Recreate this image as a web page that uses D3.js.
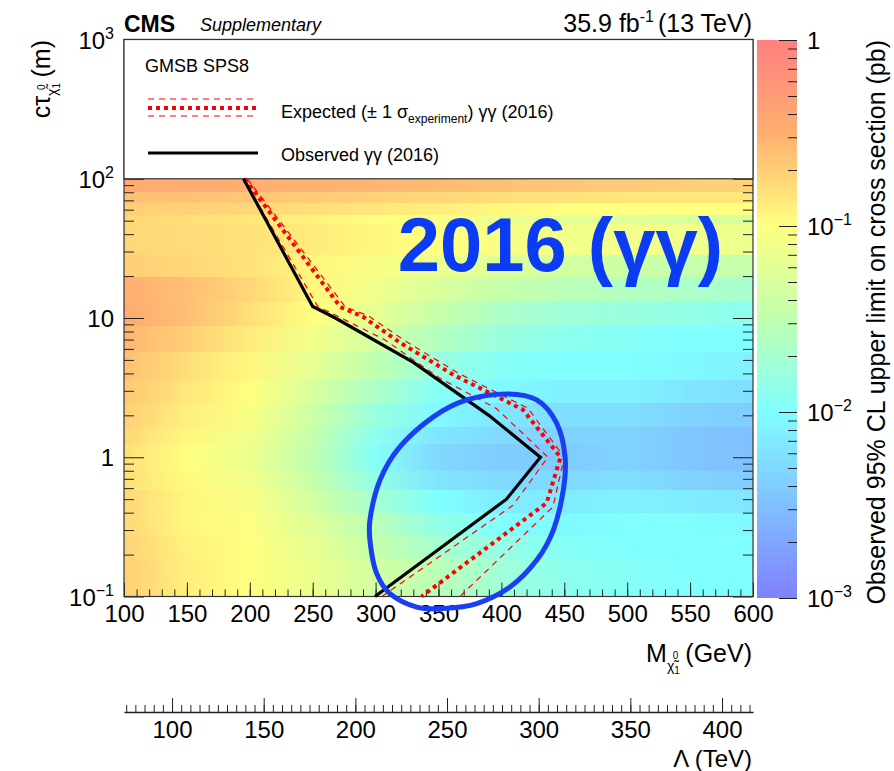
<!DOCTYPE html>
<html>
<head>
<meta charset="utf-8">
<title>GMSB SPS8 2016</title>
<style>
  body { margin: 0; background: #fff; }
  svg text { font-family: "Liberation Sans", Arial, sans-serif; fill: #000; }
</style>
</head>
<body>
<script src="https://cdn.jsdelivr.net/npm/d3@7"></script>
<script>
// ---- data ----
// neutralino mass nodes (GeV) for every row of the limit map
var massNodes = [100, 150, 200, 250, 300, 350, 400, 450, 500, 550, 600];
// row edges in c*tau (m), bottom to top
var ctauEdges = [0.1, 0.19, 0.27, 0.4, 0.58, 0.8, 1.25, 1.66, 2.47, 3.6, 5.7, 8.7, 13.1, 19.8, 28.4, 47, 55, 67, 80.7, 100];
// log10 of observed 95% CL limit (pb), one row per ctau band, one value per mass node
var limitRows = [
  [-0.70, -0.90, -1.00, -1.15, -1.35, -1.55, -1.75, -1.90, -1.95, -2.00, -2.00],
  [-0.72, -0.92, -1.00, -1.20, -1.45, -1.70, -1.85, -1.95, -2.00, -2.00, -2.00],
  [-0.75, -0.95, -1.02, -1.25, -1.55, -1.85, -2.00, -2.05, -2.00, -2.00, -2.05],
  [-0.75, -0.95, -1.05, -1.35, -1.70, -2.00, -2.15, -2.15, -2.10, -2.15, -2.20],
  [-0.80, -0.98, -1.10, -1.45, -1.85, -2.20, -2.30, -2.30, -2.25, -2.35, -2.40],
  [-0.80, -1.00, -1.15, -1.50, -1.95, -2.30, -2.40, -2.40, -2.35, -2.45, -2.50],
  [-0.75, -0.95, -1.10, -1.45, -1.90, -2.20, -2.30, -2.35, -2.35, -2.45, -2.50],
  [-0.70, -0.90, -1.05, -1.40, -1.80, -2.05, -2.20, -2.25, -2.25, -2.35, -2.40],
  [-0.65, -0.85, -1.00, -1.30, -1.65, -1.95, -2.05, -2.10, -2.10, -2.20, -2.25],
  [-0.60, -0.80, -0.95, -1.20, -1.50, -1.80, -1.95, -2.00, -2.00, -2.05, -2.10],
  [-0.55, -0.70, -0.88, -1.10, -1.35, -1.60, -1.80, -1.90, -1.95, -2.00, -2.00],
  [-0.45, -0.60, -0.80, -1.00, -1.20, -1.45, -1.65, -1.75, -1.80, -1.85, -1.90],
  [-0.50, -0.60, -0.75, -0.95, -1.10, -1.30, -1.45, -1.55, -1.60, -1.65, -1.70],
  [-0.70, -0.75, -0.82, -0.95, -1.05, -1.15, -1.25, -1.35, -1.40, -1.45, -1.45],
  [-0.75, -0.78, -0.82, -0.88, -0.95, -1.00, -1.05, -1.10, -1.10, -1.12, -1.15],
  [-0.75, -0.80, -0.85, -0.92, -1.00, -1.05, -1.15, -1.20, -1.25, -1.30, -1.32],
  [-0.70, -0.72, -0.75, -0.80, -0.85, -0.90, -0.95, -1.00, -1.00, -1.00, -1.00],
  [-0.60, -0.62, -0.65, -0.68, -0.72, -0.75, -0.80, -0.82, -0.85, -0.85, -0.85],
  [-0.45, -0.47, -0.50, -0.52, -0.55, -0.58, -0.62, -0.65, -0.68, -0.70, -0.72]
];

// exclusion contours: [mass (GeV), ctau (m)]
var observed = [[195, 100], [250, 12.1], [268, 10], [330, 4.8], [390, 2.0], [431, 1.0], [404, 0.5], [299.5, 0.1]];
var expected = [[196, 100], [272, 12], [290, 10.2], [320, 6.6], [362, 3.9], [417, 2.2], [447, 1.0], [436, 0.47], [336.5, 0.1]];
var expectedUp = [[195, 100], [254, 12.1], [268, 10.5], [307, 7.0], [351, 3.7], [396, 2.24], [437, 1.0], [409, 0.45], [305, 0.1]];
var expectedDown = [[198, 100], [276, 12], [294, 10.4], [324, 6.8], [366, 4.0], [421, 2.25], [450, 1.0], [441, 0.44], [367, 0.1]];

// hand-drawn highlight ellipse: [mass (GeV), ctau (m)]
var highlight = [[295.5, 0.354], [303.5, 0.686], [319.4, 1.19], [345.9, 1.95], [372.4, 2.58], [404.2, 2.85],
  [428.1, 2.58], [444, 1.75], [450.6, 1.01], [449.2, 0.58], [441.3, 0.30], [428, 0.182], [406.8, 0.117],
  [380.4, 0.089], [353.8, 0.082], [332.7, 0.084], [311.4, 0.105], [300.9, 0.146], [296.1, 0.228]];

var massTicks = [100, 150, 200, 250, 300, 350, 400, 450, 500, 550, 600];
var lambdaTicks = [100, 150, 200, 250, 300, 350, 400];
var ctauTicks = [0.1, 1, 10, 100, 1000];
var limitTicks = [0.001, 0.01, 0.1, 1];

// ---- canvas ----
var W = 894, H = 771;
var svg = d3.select("body").append("svg").attr("width", W).attr("height", H);

var x = d3.scaleLinear().domain([100, 600]).range([124, 753]);
var y = d3.scaleLog().domain([0.1, 1000]).range([596.5, 39.5]);
var lam = d3.scaleLinear().domain([73.8, 416.9]).range([124, 753]);
var z = d3.scaleLog().domain([0.001, 1]).range([598, 40]);

// pastel rainbow palette (blue -> cyan -> green -> yellow -> red)
var palette = d3.scaleLinear()
  .domain([0, 1 / 3, 0.5, 2 / 3, 0.83, 1])
  .range(["#8080ff", "#80ffff", "#c0ffb0", "#ffff80", "#ffb070", "#ff8080"])
  .clamp(true);
function colorOf(v) { return palette((Math.log10(v) + 3) / 3); }

var defs = svg.append("defs");

// one horizontal gradient per ctau band
limitRows.forEach(function(row, i) {
  var g = defs.append("linearGradient").attr("id", "row" + i)
    .attr("gradientUnits", "userSpaceOnUse")
    .attr("x1", x(massNodes[0])).attr("x2", x(massNodes[massNodes.length - 1]))
    .attr("y1", 0).attr("y2", 0);
  g.selectAll("stop").data(row).enter().append("stop")
    .attr("offset", function(d, j) { return (massNodes[j] - massNodes[0]) / (massNodes[massNodes.length - 1] - massNodes[0]); })
    .attr("stop-color", function(d) { return colorOf(Math.pow(10, d)); });
});

svg.append("g").selectAll("rect").data(limitRows).enter().append("rect")
  .attr("x", x(100)).attr("width", x(600) - x(100))
  .attr("y", function(d, i) { return y(ctauEdges[i + 1]); })
  .attr("height", function(d, i) { return y(ctauEdges[i]) - y(ctauEdges[i + 1]); })
  .attr("shape-rendering", "crispEdges")
  .attr("fill", function(d, i) { return "url(#row" + i + ")"; });

// ---- axes of the main frame ----
var isMajor = function(v) { return Math.abs(Math.log10(v) - Math.round(Math.log10(v))) < 1e-6; };
var yMinor = y.ticks().filter(function(v) { return !isMajor(v); });

function tidy(g) {
  g.select(".domain").remove();
  g.selectAll(".tick line").attr("stroke", "#222");
  g.selectAll("text").style("font-family", "'Liberation Sans', Arial, sans-serif");
}

svg.append("g").attr("transform", "translate(" + x(100) + ",0)")
  .call(d3.axisLeft(y).tickValues(yMinor).tickSize(-10).tickFormat("")).call(tidy);
svg.append("g").attr("transform", "translate(" + x(100) + ",0)")
  .call(d3.axisLeft(y).tickValues(ctauTicks).tickSize(-20).tickFormat("")).call(tidy);
svg.append("g").attr("transform", "translate(" + x(600) + ",0)")
  .call(d3.axisRight(y).tickValues(yMinor).tickSize(-10).tickFormat("")).call(tidy);
svg.append("g").attr("transform", "translate(" + x(600) + ",0)")
  .call(d3.axisRight(y).tickValues(ctauTicks).tickSize(-20).tickFormat("")).call(tidy);

svg.append("g").attr("transform", "translate(0," + y(0.1) + ")")
  .call(d3.axisBottom(x).tickValues(d3.range(100, 601, 10)).tickSize(-7).tickFormat("")).call(tidy);
var xa = svg.append("g").attr("transform", "translate(0," + y(0.1) + ")")
  .call(d3.axisBottom(x).tickValues(massTicks).tickSize(-14).tickPadding(8).tickFormat(d3.format("d")));
xa.call(tidy);
xa.selectAll("text").style("font-size", "24px").attr("fill", "#000");

// power-of-ten label helper
function powLabel(sel, v) {
  var e = Math.round(Math.log10(v));
  if (e === 0) { sel.text("1"); return; }
  if (e === 1) { sel.text("10"); return; }
  sel.append("tspan").text("10");
  sel.append("tspan").attr("dy", -10).style("font-size", "16px")
    .text(e < 0 ? "\u2212" + (-e) : String(e));
}

svg.append("g").selectAll("text").data(ctauTicks).enter().append("text")
  .attr("x", 114).attr("y", function(d) { return y(d) + 9; })
  .attr("text-anchor", "end").style("font-size", "24px")
  .each(function(d) { powLabel(d3.select(this), d); });

// frame
svg.append("rect").attr("x", x(100)).attr("y", y(1000)).attr("width", x(600) - x(100))
  .attr("height", y(0.1) - y(1000)).attr("fill", "none").attr("stroke", "#333").attr("stroke-width", 1.2);

// legend box covering the top decade
svg.append("rect").attr("x", x(100)).attr("y", y(1000)).attr("width", x(600) - x(100))
  .attr("height", y(100) - y(1000)).attr("fill", "#fff").attr("stroke", "#333").attr("stroke-width", 1.2);

// ---- contours ----
var line = d3.line().x(function(d) { return x(d[0]); }).y(function(d) { return y(d[1]); });

svg.append("path").datum(expectedUp).attr("d", line).attr("fill", "none")
  .attr("stroke", "#ff0000").attr("stroke-width", 1.2).attr("stroke-dasharray", "6,5");
svg.append("path").datum(expectedDown).attr("d", line).attr("fill", "none")
  .attr("stroke", "#ff0000").attr("stroke-width", 1.2).attr("stroke-dasharray", "6,5");
svg.append("path").datum(expected).attr("d", line).attr("fill", "none")
  .attr("stroke", "#ff0000").attr("stroke-width", 4).attr("stroke-dasharray", "4,4");
svg.append("path").datum(observed).attr("d", line).attr("fill", "none")
  .attr("stroke", "#000").attr("stroke-width", 3.2);

svg.append("path").datum(highlight)
  .attr("d", d3.line().curve(d3.curveCardinalClosed).x(function(d) { return x(d[0]); }).y(function(d) { return y(d[1]); }))
  .attr("fill", "none").attr("stroke", "#1a3ef2").attr("stroke-width", 5);

svg.append("text").attr("x", 723).attr("y", 271).attr("text-anchor", "end")
  .style("font-size", "76px").style("font-weight", "bold").style("fill", "#0b3cf4")
  .text("2016 (\u03b3\u03b3)");

// ---- legend ----
var lg = svg.append("g");
lg.append("text").attr("x", 145).attr("y", 72).style("font-size", "18px").text("GMSB SPS8");
[99, 116].forEach(function(yy) {
  lg.append("line").attr("x1", 148).attr("x2", 258).attr("y1", yy).attr("y2", yy)
    .attr("stroke", "#ff0000").attr("stroke-width", 1.2).attr("stroke-dasharray", "6,5");
});
lg.append("line").attr("x1", 148).attr("x2", 258).attr("y1", 108).attr("y2", 108)
  .attr("stroke", "#ff0000").attr("stroke-width", 4).attr("stroke-dasharray", "4,4");
var et = lg.append("text").attr("x", 281).attr("y", 118).style("font-size", "18px");
et.append("tspan").text("Expected (\u00b1 1 \u03c3");
et.append("tspan").attr("dy", 5).style("font-size", "12px").text("experiment");
et.append("tspan").attr("dy", -5).text(") \u03b3\u03b3 (2016)");
lg.append("line").attr("x1", 148).attr("x2", 258).attr("y1", 153).attr("y2", 153)
  .attr("stroke", "#000").attr("stroke-width", 3.2);
lg.append("text").attr("x", 281).attr("y", 161).style("font-size", "18px").text("Observed \u03b3\u03b3 (2016)");

// ---- header ----
svg.append("text").attr("x", 124).attr("y", 32).style("font-size", "23px").style("font-weight", "bold").text("CMS");
svg.append("text").attr("x", 200).attr("y", 31).style("font-size", "18px").style("font-style", "italic").text("Supplementary");
var lum = svg.append("text").attr("x", 752).attr("y", 32).attr("text-anchor", "end").style("font-size", "25px");
lum.append("tspan").text("35.9 fb");
lum.append("tspan").attr("dy", -10).style("font-size", "16px").text("-1");
lum.append("tspan").attr("dx", 4).attr("dy", 10).text("(13 TeV)");

// ---- axis titles ----
var yt = svg.append("text").attr("transform", "translate(50,40) rotate(-90)").attr("text-anchor", "end")
  .style("font-size", "25px");
yt.append("tspan").text("c\u03c4");
yt.append("tspan").attr("dy", 7).style("font-size", "14px").text("\u03c7\u0303");
yt.append("tspan").attr("dy", 3).style("font-size", "10px").text("1");
yt.append("tspan").attr("dx", -7).attr("dy", -15).style("font-size", "10px").text("0");
yt.append("tspan").attr("dy", 5).text(" (m)");

var xt = svg.append("text").attr("x", 752).attr("y", 662).attr("text-anchor", "end").style("font-size", "25px");
xt.append("tspan").text("M");
xt.append("tspan").attr("dy", 9).style("font-size", "14px").text("\u03c7\u0303");
xt.append("tspan").attr("dy", 3).style("font-size", "10px").text("1");
xt.append("tspan").attr("dx", -7).attr("dy", -15).style("font-size", "10px").text("0");
xt.append("tspan").attr("dy", 3).text(" (GeV)");

// ---- Lambda axis ----
svg.append("g").attr("transform", "translate(0,712)")
  .call(d3.axisBottom(lam).tickValues(d3.range(75, 417, 5)).tickSize(-7).tickSizeOuter(0).tickFormat(""))
  .call(function(g) { g.selectAll(".tick line").attr("stroke", "#222"); g.select(".domain").attr("stroke", "#222").attr("stroke-width", 1.3); });
var la = svg.append("g").attr("transform", "translate(0,712)")
  .call(d3.axisBottom(lam).tickValues(lambdaTicks).tickSize(-14).tickPadding(9).tickFormat(d3.format("d")));
la.call(tidy);
la.selectAll("text").style("font-size", "24px").attr("fill", "#000");
svg.append("text").attr("x", 752).attr("y", 767).attr("text-anchor", "end").style("font-size", "24px")
  .text("\u039b (TeV)");

// ---- colour bar ----
var cbx = 757, cbw = 40;
var cg = defs.append("linearGradient").attr("id", "cbar").attr("x1", 0).attr("x2", 0).attr("y1", 1).attr("y2", 0);
cg.selectAll("stop").data(d3.range(0, 1.0001, 0.02)).enter().append("stop")
  .attr("offset", function(d) { return d; })
  .attr("stop-color", function(d) { return palette(d); });
svg.append("rect").attr("x", cbx).attr("y", z(1)).attr("width", cbw).attr("height", z(0.001) - z(1))
  .attr("fill", "url(#cbar)");

var zMinor = z.ticks().filter(function(v) { return !isMajor(v); });
svg.append("g").attr("transform", "translate(" + (cbx + cbw) + ",0)")
  .call(d3.axisRight(z).tickValues(zMinor).tickSize(-9).tickFormat("")).call(tidy);
svg.append("g").attr("transform", "translate(" + (cbx + cbw) + ",0)")
  .call(d3.axisRight(z).tickValues(limitTicks).tickSize(-18).tickFormat("")).call(tidy);
svg.append("g").selectAll("text").data(limitTicks).enter().append("text")
  .attr("x", 807).attr("y", function(d) { return z(d) + 9; })
  .style("font-size", "24px")
  .each(function(d) { powLabel(d3.select(this), d); });

svg.append("text").attr("transform", "translate(885,40) rotate(-90)").attr("text-anchor", "end")
  .style("font-size", "25px").text("Observed 95% CL upper limit on cross section (pb)");
</script>
</body>
</html>
